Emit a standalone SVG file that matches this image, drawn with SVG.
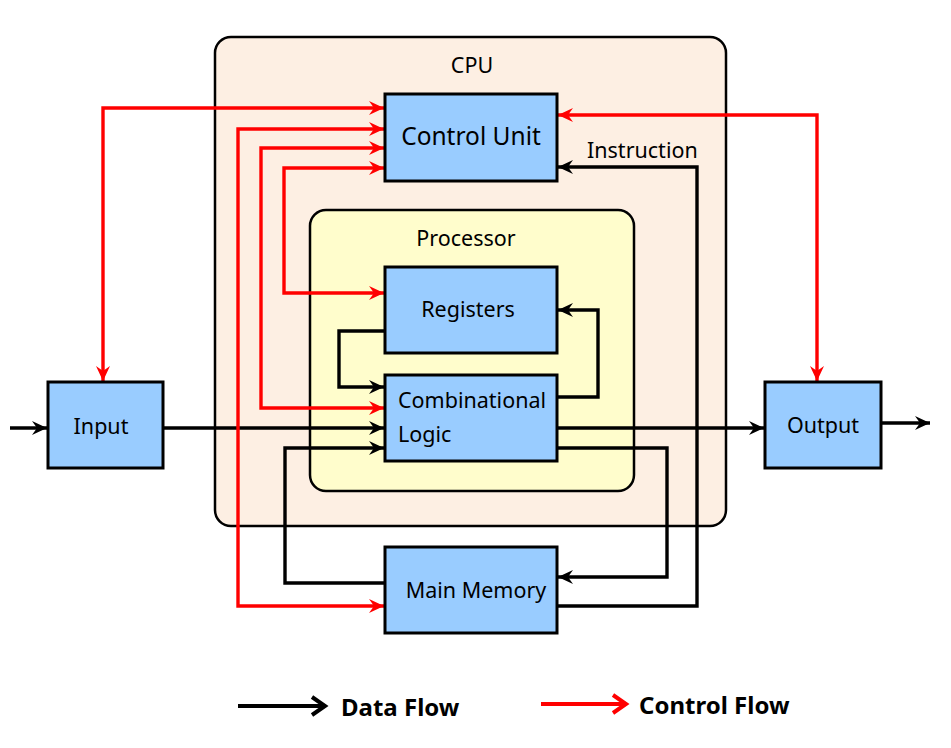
<svg xmlns="http://www.w3.org/2000/svg" width="951" height="748" viewBox="0 0 951 748">
<style>
  text { font-family: "Noto Sans", "Open Sans", "DejaVu Sans", sans-serif; fill: #000; }
  .lbl { font-size: 21.5px; }
  .big { font-size: 24.5px; }
  .leg { font-size: 24px; font-weight: bold; }
  .node { fill: #99ccff; stroke: #000; stroke-width: 3; }
  .data { fill: none; stroke: #000; stroke-width: 3.4; marker-end: url(#ab); }
  .ctrl { fill: none; stroke: #ff0000; stroke-width: 3.4; marker-end: url(#ar); marker-start: url(#ar); }
</style>
<defs>
  <marker id="ab" markerUnits="userSpaceOnUse" markerWidth="16" markerHeight="14" refX="15" refY="7" orient="auto-start-reverse">
    <path d="M0,0 L15,7 L0,14 L5,7 z" fill="#000"/>
  </marker>
  <marker id="ar" markerUnits="userSpaceOnUse" markerWidth="16" markerHeight="14" refX="15" refY="7" orient="auto-start-reverse">
    <path d="M0,0 L15,7 L0,14 L5,7 z" fill="#ff0000"/>
  </marker>
</defs>
<rect width="951" height="748" fill="#fff"/>

<g id="cpu">
  <rect x="215" y="37" width="511" height="489" rx="16" fill="#fdefe3" stroke="#000" stroke-width="2.5"/>
  <text class="lbl" x="472" y="73" text-anchor="middle">CPU</text>
</g>
<g id="processor">
  <rect x="310" y="210" width="324" height="281" rx="16" fill="#fffdcc" stroke="#000" stroke-width="2.5"/>
  <text class="lbl" x="466" y="246" text-anchor="middle">Processor</text>
</g>

<g id="connectors">
  <path class="data" d="M10,428 H47"/>
  <path class="data" d="M163,428 H384"/>
  <path class="data" d="M557,428 H764"/>
  <path class="data" d="M881,423 H930"/>
  <path class="data" d="M385,331 H339 V387 H384"/>
  <path class="data" d="M557,397 H598 V310 H558"/>
  <path class="data" d="M385,583 H285 V448 H384"/>
  <path class="data" d="M557,448 H667 V577 H558"/>
  <path class="data" d="M557,606 H697 V167 H558"/>
  <path class="ctrl" d="M558,115 H817 V381"/>
  <path class="ctrl" d="M103,381 V108 H384"/>
  <path class="ctrl" d="M384,129 H238 V606 H384"/>
  <path class="ctrl" d="M384,148 H261 V408 H384"/>
  <path class="ctrl" d="M384,168 H284 V293 H384"/>
  <text class="lbl" x="587" y="158">Instruction</text>
</g>

<g id="control-unit">
  <rect class="node" x="385" y="94" width="172" height="87"/>
  <text class="big" x="471" y="145" text-anchor="middle">Control Unit</text>
</g>
<g id="registers">
  <rect class="node" x="385" y="267" width="172" height="86"/>
  <text class="lbl" x="468" y="317" text-anchor="middle">Registers</text>
</g>
<g id="combinational-logic">
  <rect class="node" x="385" y="375" width="172" height="86"/>
  <text class="lbl" x="398" y="408">Combinational</text>
  <text class="lbl" x="398" y="442">Logic</text>
</g>
<g id="main-memory">
  <rect class="node" x="385" y="547" width="172" height="86"/>
  <text class="lbl" x="476" y="598" text-anchor="middle">Main Memory</text>
</g>
<g id="input">
  <rect class="node" x="48" y="382" width="115" height="86"/>
  <text class="lbl" x="101" y="434" text-anchor="middle">Input</text>
</g>
<g id="output">
  <rect class="node" x="765" y="382" width="116" height="86"/>
  <text class="lbl" x="823" y="433" text-anchor="middle">Output</text>
</g>

<g id="legend">
  <line x1="238" y1="706" x2="324" y2="706" stroke="#000" stroke-width="4"/>
  <polyline points="312,697 325,706 312,715" fill="none" stroke="#000" stroke-width="4"/>
  <text class="leg" x="341" y="716">Data Flow</text>
  <line x1="541" y1="704" x2="625" y2="704" stroke="#ff0000" stroke-width="4"/>
  <polyline points="613,695 626,704 613,713" fill="none" stroke="#ff0000" stroke-width="4"/>
  <text class="leg" x="639" y="714">Control Flow</text>
</g>
</svg>
